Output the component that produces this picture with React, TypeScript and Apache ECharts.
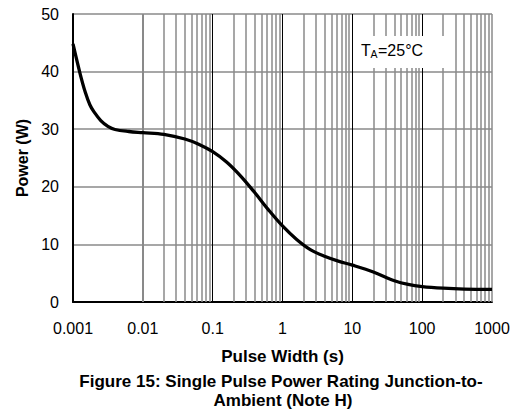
import React, { useEffect, useRef } from "react";
import * as echarts from "echarts";

// Pulse width (s) and single-pulse power rating (W)
const pulseWidth = [
  0.001, 0.00126, 0.0015, 0.00175, 0.002, 0.0025, 0.00316, 0.004, 0.0063, 0.01, 0.02,
  0.04, 0.063, 0.1, 0.158, 0.25, 0.4, 0.63, 1, 1.58, 2.5, 4, 6.3, 10, 20, 40, 63,
  100, 200, 400, 1000,
];
const power = [
  44.8, 39.7, 36.4, 34.2, 33.0, 31.5, 30.5, 29.95, 29.6, 29.4, 29.1,
  28.3, 27.4, 26.1, 24.3, 21.9, 19.0, 16.0, 13.2, 10.9, 9.1, 7.95, 7.1, 6.4, 5.2, 3.7, 3.05,
  2.68, 2.4, 2.25, 2.2,
];

const xMin = 0.001;
const xMax = 1000;
const yTicks = [0, 10, 20, 30, 40, 50];

// Minor grid lines of the log axis (2..9 in every decade) plus the right border
const minorMultipliers = [2, 3, 4, 5, 6, 7, 8, 9];
const decadeExponents = [-3, -2, -1, 0, 1, 2];

const xAxisName = "Pulse Width (s)";
const yAxisName = "Power (W)";
const captionLines = [
  "Figure 15: Single Pulse Power Rating Junction-to-",
  "Ambient (Note H)",
];

const FONT = 'Arial, "Liberation Sans", sans-serif';
const GRID_GRAY = "#8a8a8a";

export default function App() {
  const ref = useRef<HTMLDivElement>(null);

  useEffect(() => {
    if (!ref.current) return;
    const chart = echarts.init(ref.current, undefined, { renderer: "svg" });

    const minorValues: number[] = [];
    decadeExponents.forEach((e) => {
      minorMultipliers.forEach((m) => {
        minorValues.push(parseFloat((m * Math.pow(10, e)).toPrecision(2)));
      });
    });
    minorValues.push(xMax);

    const data = pulseWidth.map((x, i) => [x, power[i]]);

    chart.setOption({
      animation: false,
      grid: { left: 73, right: 21, top: 14, bottom: 115 },
      xAxis: {
        type: "log",
        logBase: 10,
        min: xMin,
        max: xMax,
        name: xAxisName,
        nameLocation: "middle",
        nameGap: 46,
        nameTextStyle: { fontFamily: FONT, fontSize: 17, fontWeight: "bold", color: "#000" },
        axisLine: { show: true, onZero: false, lineStyle: { color: "#000", width: 2 } },
        axisTick: { show: false },
        axisLabel: {
          fontFamily: FONT,
          fontSize: 16,
          color: "#000",
          margin: 18,
          formatter: (v: number) => (v >= 1 ? v.toFixed(0) : v.toPrecision(1)),
        },
        splitLine: { show: true, showMaxLine: false, lineStyle: { color: "#000", width: 1 } },
        minorTick: { show: false },
        minorSplitLine: { show: false },
      },
      yAxis: {
        type: "value",
        min: yTicks[0],
        max: yTicks[yTicks.length - 1],
        interval: 10,
        name: yAxisName,
        nameLocation: "middle",
        nameGap: 43,
        nameTextStyle: { fontFamily: FONT, fontSize: 16, fontWeight: "bold", color: "#000" },
        axisLine: { show: true, lineStyle: { color: "#000", width: 2 } },
        axisTick: { show: false },
        axisLabel: { fontFamily: FONT, fontSize: 16, color: "#000", margin: 14 },
        splitLine: { show: true, lineStyle: { color: GRID_GRAY, width: 1.5 } },
      },
      series: [
        {
          type: "line",
          data: [],
          silent: true,
          z: 1,
          markLine: {
            silent: true,
            symbol: "none",
            label: { show: false },
            lineStyle: { color: GRID_GRAY, width: 1.5, type: "solid" },
            emphasis: { disabled: true },
            data: minorValues.map((v) => ({ xAxis: v })),
          },
        },
        {
          type: "line",
          data,
          z: 5,
          smooth: 0.35,
          showSymbol: false,
          symbol: "none",
          lineStyle: { color: "#000", width: 3.3 },
          silent: true,
        },
      ],
      graphic: [
        {
          type: "rect",
          z: 100,
          shape: { x: 358, y: 36, width: 89, height: 32 },
          style: { fill: "#fff" },
        },
        {
          type: "text",
          z: 101,
          x: 361,
          y: 50,
          style: { text: "T", font: `16px ${FONT}`, fill: "#000", textVerticalAlign: "middle" },
        },
        {
          type: "text",
          z: 101,
          x: 370.5,
          y: 54,
          style: { text: "A", font: `10.5px ${FONT}`, fill: "#000", textVerticalAlign: "middle" },
        },
        {
          type: "text",
          z: 101,
          x: 378,
          y: 50,
          style: { text: "=25°C", font: `16px ${FONT}`, fill: "#000", textVerticalAlign: "middle" },
        },
        {
          type: "text",
          z: 101,
          x: 281,
          y: 381,
          style: {
            text: captionLines[0],
            font: `bold 17px ${FONT}`,
            fill: "#000",
            textAlign: "center",
            textVerticalAlign: "middle",
          },
        },
        {
          type: "text",
          z: 101,
          x: 283,
          y: 400,
          style: {
            text: captionLines[1],
            font: `bold 17px ${FONT}`,
            fill: "#000",
            textAlign: "center",
            textVerticalAlign: "middle",
          },
        },
      ],
    });

    return () => chart.dispose();
  }, []);

  return (
    <div
      ref={ref}
      style={{ position: "fixed", left: 0, top: 0, width: 513, height: 417, background: "#fff" }}
    />
  );
}
